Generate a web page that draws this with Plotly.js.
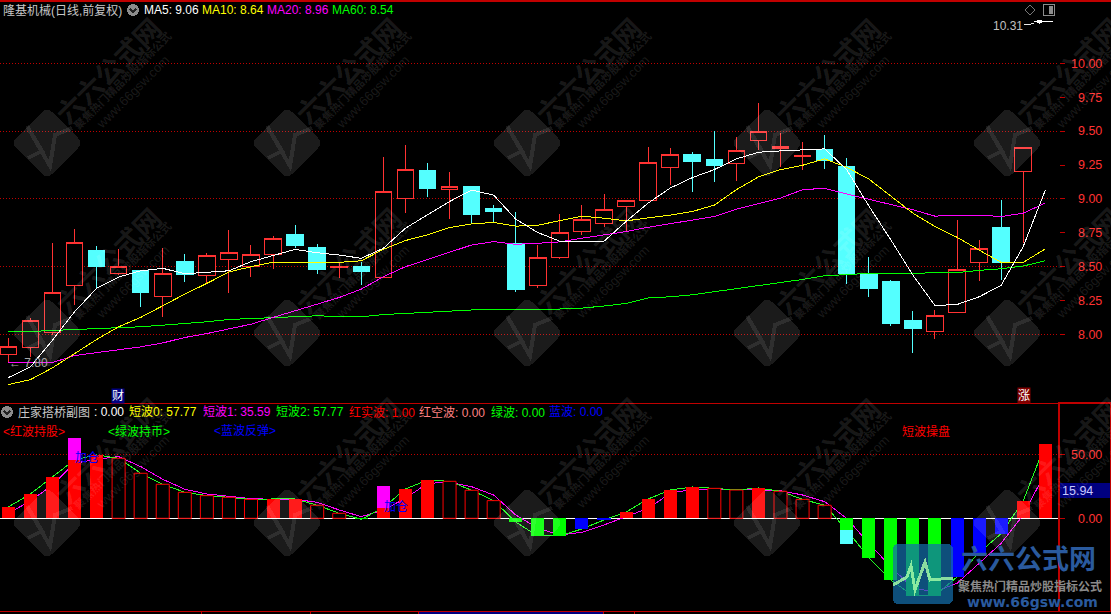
<!DOCTYPE html>
<html><head><meta charset="utf-8">
<script src="https://cdn.plot.ly/plotly-3.0.1.min.js"></script>
<style>html,body{margin:0;padding:0;background:#000;overflow:hidden}#c{width:1111px;height:614px}
.boxlayer path,.barlayer path,.scatterlayer path{shape-rendering:crispEdges !important}
.shapelayer path{shape-rendering:crispEdges !important}
</style>
</head><body><div id="c"></div>
<script>
const W=1111,H=614;
// ---- price data (main panel) ----
const opens=[7.852,7.901,8.012,8.360,8.616,8.448,8.475,8.278,8.542,8.433,8.552,8.502,8.589,8.734,8.645,8.493,8.505,
8.421,9.006,9.209,9.070,9.090,8.927,8.673,8.359,8.567,8.759,8.819,8.944,8.991,9.233,9.327,9.290,9.263,
9.433,9.374,9.315,9.364,9.238,8.446,8.394,8.105,8.019,8.159,8.530,8.786,9.204];
const closes=[7.911,8.103,8.310,8.680,8.505,8.502,8.313,8.451,8.441,8.584,8.606,8.591,8.709,8.653,8.483,8.502,8.468,
9.051,9.214,9.075,9.088,8.883,8.905,8.335,8.569,8.754,8.851,8.925,8.991,9.265,9.325,9.275,9.246,9.357,
9.495,9.389,9.322,9.280,8.453,8.342,8.083,8.046,8.139,8.480,8.636,8.530,9.377];
const highs=[7.978,8.121,8.675,8.778,8.653,8.628,8.475,8.638,8.594,8.601,8.771,8.660,8.727,8.808,8.667,8.532,8.537,
9.312,9.399,9.268,9.201,9.090,8.954,8.905,8.660,8.890,8.957,9.038,8.991,9.386,9.379,9.349,9.502,9.453,
9.710,9.483,9.423,9.468,9.305,8.572,8.401,8.172,8.179,8.846,8.698,8.994,9.377];
const lows=[7.798,7.833,7.995,8.217,8.342,8.438,8.202,8.128,8.387,8.372,8.305,8.424,8.483,8.640,8.446,8.416,8.362,
8.421,8.898,9.016,8.853,8.821,8.826,8.312,8.342,8.557,8.735,8.794,8.762,8.991,9.105,9.053,9.127,9.135,
9.359,9.238,9.211,9.219,8.374,8.278,8.063,7.863,7.967,8.159,8.394,8.401,8.673];
const ma5=[7.682,7.761,7.958,8.167,8.340,8.424,8.470,8.488,8.448,8.458,8.470,8.537,8.581,8.628,8.603,8.586,8.562,
8.636,8.784,8.883,8.981,9.065,9.028,8.851,8.752,8.688,8.683,8.688,8.833,8.969,9.080,9.157,9.216,9.295,
9.344,9.354,9.362,9.369,9.216,8.949,8.698,8.438,8.214,8.221,8.278,8.362,8.648,9.063];
const ma10=[7.631,7.667,7.754,7.860,7.963,8.057,8.126,8.212,8.298,8.377,8.461,8.500,8.534,8.532,8.532,8.532,8.544,
8.628,8.693,8.735,8.789,8.816,8.826,8.799,8.806,8.841,8.873,8.858,8.838,8.860,8.880,8.907,8.954,9.068,
9.162,9.216,9.248,9.295,9.233,9.147,9.019,8.895,8.796,8.717,8.623,8.532,8.532,8.631];
const ma20=[7.793,7.793,7.793,7.845,7.867,7.892,7.909,7.938,7.978,8.007,8.039,8.076,8.126,8.175,8.222,8.273,8.335,
8.426,8.500,8.554,8.611,8.660,8.685,8.665,8.673,8.683,8.710,8.735,8.759,8.791,8.816,8.846,8.870,8.925,
8.964,9.006,9.068,9.078,9.036,8.999,8.957,8.920,8.873,8.880,8.880,8.870,8.895,8.969];
const ma60=[8.022,8.022,8.030,8.037,8.042,8.049,8.057,8.069,8.081,8.094,8.111,8.118,8.123,8.131,8.138,8.133,8.131,
8.147,8.155,8.166,8.173,8.181,8.181,8.181,8.184,8.188,8.195,8.210,8.229,8.270,8.278,8.293,8.315,8.335,
8.357,8.381,8.406,8.433,8.443,8.451,8.451,8.451,8.451,8.456,8.473,8.485,8.505,8.544];
const priceTicks=[8,8.25,8.5,8.75,9,9.25,9.5,9.75,10];
const priceTickText=["\u20078.00","\u20078.25","\u20078.50","\u20078.75","\u20079.00","\u20079.25","\u20079.50","\u20079.75","10.00"];
const priceGrid=[8,8.5,9,9.5,10];
// ---- indicator data (sub panel) ----
const wave2=[8.85,19.0,32.3,45.6,49.5,46.9,35.2,26.6,20.3,17.7,16.4,14.8,15.1,15.1,10.2,3.9,-0.8,
8.3,22.9,29.9,28.9,21.9,13.8,-2.9,-13.8,-13.8,-8.3,-1.3,4.9,15.1,22.1,24.5,23.4,22.1,
23.7,21.1,14.8,10.2,-9.1,-30.7,-48.2,-60.4,-60.4,-45.8,-26.8,-12.0,13.5,57.77];
const wave1=[3.9,13.5,26.0,43.0,46.1,48.2,40.4,30.5,22.7,19.0,17.2,15.4,14.8,14.8,12.5,6.5,1.3,
6.5,15.6,27.3,28.1,24.7,18.2,2.6,-7.8,-13.0,-10.9,-5.2,1.3,7.8,19.5,22.7,22.7,22.7,
22.1,21.6,18.2,13.0,0.0,-19.5,-37.8,-54.7,-57.3,-50.8,-35.2,-19.5,2.6,35.59];
const barKind="FFFFFHHHHHHHFFHHGFFFHHHGGGBBFFFFHHFHHHGGGGGBBBFF".split("");
const extraMagentaIdx=[3,17], extraMagentaVal=[62.8,25.3];
const extraCyanIdx=[38], extraCyanVal=[-20.05];
const subTicks=[0,50], subTickText=["\u20070.00","50.00"];

const idx=wave2.map((_,i)=>i);
const px=x=>x/W, py=y=>1-y/H;
const pick=k=>({x:idx.filter(i=>barKind[i]===k),y:idx.filter(i=>barKind[i]===k).map(i=>wave2[i])});
const xRange=[-0.376,47.6], dom=[0,1058.5/W];
const lineT=(y,c,xa,ya)=>({type:'scatter',mode:'lines',x:idx,y:y,xaxis:xa,yaxis:ya,line:{color:c,width:1,shape:'linear'},hoverinfo:'skip',showlegend:false});
const barT=(d,c,lc)=>({type:'bar',zorder:1,x:d.x,y:d.y,xaxis:'x2',yaxis:'y2',width:0.59,marker:{color:c,line:{color:lc||c,width:lc?1:0}},hoverinfo:'skip',showlegend:false});

const traces=[
 {type:'candlestick',x:idx.slice(0,47),open:opens,high:highs,low:lows,close:closes,xaxis:'x',yaxis:'y',
  whiskerwidth:0,increasing:{line:{color:'#ff3232',width:1},fillcolor:'#000'},decreasing:{line:{color:'#54ffff',width:1},fillcolor:'#54ffff'},hoverinfo:'skip',showlegend:false},
 lineT(ma60,'#00ff00','x','y'),lineT(ma20,'#ff00ff','x','y'),lineT(ma10,'#ffff00','x','y'),lineT(ma5,'#ffffff','x','y'),
 barT({x:extraMagentaIdx,y:extraMagentaVal},'#ff00ff'),
 barT({x:extraCyanIdx,y:extraCyanVal},'#54ffff'),
 barT(pick('F'),'#ff0000'),
 barT(pick('H'),'#000000','#ff0000'),
 barT(pick('G'),'#00ff00'),
 barT(pick('B'),'#0000ff'),
 lineT(wave1,'#ff00ff','x2','y2'),lineT(wave2,'#22ff22','x2','y2')
];

const RED='#c00000';
const shapes=[];
const seg=(x0,y0,x1,y1,c,w)=>shapes.push({type:'line',xref:'paper',yref:'paper',x0:px(x0),y0:py(y0),x1:px(x1),y1:py(y1),line:{color:c,width:w},layer:'above'});
// grid
priceGrid.forEach(v=>shapes.push({type:'line',xref:'paper',yref:'y',x0:0,x1:px(1058),y0:v,y1:v,line:{color:'#c00000',width:1,dash:'1px,2px'},layer:'below'}));
shapes.push({type:'line',xref:'paper',yref:'y2',x0:0,x1:px(1058),y0:50,y1:50,line:{color:'#c00000',width:1,dash:'1px,2px'},layer:'below'});
// frame
seg(0,1,1111,1,RED,2);
seg(0,403.5,1058,403.5,RED,1);
seg(1058,403,1111,403,RED,2);
seg(0,611.5,1111,611.5,RED,1);
seg(1110,403,1110,612,RED,1);
seg(1059,403,1059,612,RED,2);
[201,310,418,603,634].forEach(x=>seg(x,611,x,614,RED,1));
shapes.push({type:'rect',xref:'paper',yref:'paper',x0:px(419),x1:px(603),y0:py(614),y1:py(612),fillcolor:'#000080',line:{width:0},layer:'above'});
shapes.push({type:'rect',xref:'paper',yref:'paper',x0:px(1060),x1:px(1110),y0:py(498),y1:py(483),fillcolor:'#000080',line:{width:0},layer:'above'});
// watermark
const rel=(cx,cy,pts)=>pts.map(p=>px(cx+p[0])+','+py(cy+p[1]));
const dia=(cx,cy)=>{
  const P=a=>rel(cx,cy,[a])[0];
  return 'M'+P([-5,-31])+' Q'+P([0,-36])+' '+P([5,-31])+' L'+P([31,-5])+' Q'+P([36,0])+' '+P([31,5])+' L'+P([5,31])+' Q'+P([0,36])+' '+P([-5,31])+' L'+P([-31,5])+' Q'+P([-36,0])+' '+P([-31,-5])+' Z';
};
const pulse=(cx,cy)=>'M'+rel(cx,cy,[[-19,15],[-5,8],[-20,-17],[3,23],[8,-8],[25,-15]]).join(' L');
const annotations=[];
const FONT='Liberation Sans, Noto Sans CJK SC, sans-serif';
const T=(x,y,t,c,s,o)=>annotations.push(Object.assign({xref:'paper',yref:'paper',x:px(x),y:py(y),text:t,showarrow:false,xanchor:'left',yanchor:'middle',borderpad:0,font:{family:FONT,size:s||12,color:c}},o||{}));
const wm='rgba(255,255,255,0.11)';
[47,287,527,767,1007].forEach(cx=>[143,333,523].forEach(cy=>{
  shapes.push({type:'path',xref:'paper',yref:'paper',path:dia(cx,cy),fillcolor:'rgba(255,255,255,0.105)',line:{width:0},layer:'above'});
  shapes.push({type:'path',xref:'paper',yref:'paper',path:pulse(cx,cy),line:{color:'rgba(255,255,255,0.09)',width:4},layer:'above'});
  const A={textangle:-45,xanchor:'center'};
  T(cx+60,cy-73,'六六公式网',wm,27,Object.assign({font:{family:'Noto Sans CJK SC',size:27,color:wm,weight:700}},A));
  T(cx+75,cy-63,'聚焦热门精品炒股指标公式',wm,11,Object.assign({font:{family:'Noto Sans CJK SC',size:11,color:wm,weight:700}},A));
  T(cx+85,cy-51,'www.66gsw.com',wm,13,A);
}));
// header main
T(2,10,'隆基机械(日线,前复权)','#c8c8c8',12);
T(143,10,'MA5: 9.06','#ffffff');T(201,10,'MA10: 8.64','#ffff00');T(266,10,'MA20: 8.96','#ff00ff');T(331,10,'MA60: 8.54','#00ff00');
const chevron=(cx,cy)=>{
  shapes.push({type:'circle',xref:'paper',yref:'paper',x0:px(cx-6),x1:px(cx+6),y0:py(cy-6),y1:py(cy+6),fillcolor:'#8c8c8c',line:{width:0},layer:'above'});
  shapes.push({type:'path',xref:'paper',yref:'paper',path:'M'+rel(cx,cy,[[-3,-1],[0,2],[3,-1]]).join(' L'),line:{color:'#222',width:1.5},layer:'above'});
};
chevron(133,10);chevron(7,412);
// header sub
T(17,412,'庄家搭桥副图','#c8c8c8');T(93,412,': 0.00','#ffffff');
T(128,412,'短波0: 57.77','#ffff00');T(202,412,'短波1: 35.59','#ff00ff');T(275,412,'短波2: 57.77','#00ff00');
T(348,412,'红实波: 1.00','#ff0000');T(418,412,'红空波: 0.00','#ff8080');T(490,412,'绿波: 0.00','#00ff00');T(548,412,'蓝波: 0.00','#0000ff');
T(2,431,'&lt;红波持股&gt;','#ff0000');T(107,431,'&lt;绿波持币&gt;','#00ff00');T(213,431,'&lt;蓝波反弹&gt;','#0000ff');T(901,431,'短波操盘','#ff0000');
T(74,458,'加仓','#0000ff');T(383,507,'加仓','#0000ff');
// marks
T(8,363,'← 7.80','#a8a8a8');T(992,26,'10.31','#c0c0c0');
T(111,396,'财','#ffffff',12,{bgcolor:'#000080'});T(1017,396,'涨','#ffffff',12,{bgcolor:'#800000'});
T(1061,490.5,'15.94','#c8c8ff',12.5);
seg(1024,25,1034,23.5,'#e8e8e8',1);seg(1034,22,1053,21,'#ffffff',1);seg(1037,21,1042,21,'#ffffff',3);seg(1039,24,1041,22,'#ffffff',1);
shapes.push({type:'path',xref:'paper',yref:'paper',path:'M'+rel(1030,10,[[0,-5],[5,0],[0,5],[-5,0]]).join(' L')+' Z',line:{color:'#777',width:1},layer:'above'});
shapes.push({type:'rect',xref:'paper',yref:'paper',x0:px(1043.5),x1:px(1054.5),y0:py(15.5),y1:py(4.5),line:{color:'#8c8c8c',width:1.5},layer:'above'});
shapes.push({type:'rect',xref:'paper',yref:'paper',x0:px(1049),x1:px(1053),y0:py(14),y1:py(6),fillcolor:'#8c8c8c',line:{width:0},layer:'above'});
// logo
const logoP=(a)=>px(a[0])+','+py(a[1]);
shapes.push({type:'path',xref:'paper',yref:'paper',path:'M'+logoP([899,544])+' L'+logoP([947,544])+' Q'+logoP([953,544])+' '+logoP([953,550])+' L'+logoP([953,598])+' Q'+logoP([953,604])+' '+logoP([947,604])+' L'+logoP([899,604])+' Q'+logoP([893,604])+' '+logoP([893,598])+' L'+logoP([893,550])+' Q'+logoP([893,544])+' '+logoP([899,544])+' Z',fillcolor:'rgba(20,110,170,0.72)',line:{width:0},layer:'above'});
shapes.push({type:'path',xref:'paper',yref:'paper',path:'M'+[[893,585],[907,577],[911,566],[915,590],[925,562],[930,580],[953,578]].map(logoP).join(' L'),line:{color:'rgba(170,255,170,0.8)',width:3},layer:'above'});
T(960,557,'六六公式网','#2a5a9e',27,{font:{family:'Noto Sans CJK SC',size:27,color:'#2a5a9e',weight:700}});
T(957,585,'聚焦热门精品炒股指标公式','#8a8a8a',12,{font:{family:'Noto Sans CJK SC',size:12,color:'#8a8a8a',weight:700}});
T(966,602,'www.66gsw.com','#2a5a9e',14,{font:{family:'DejaVu Sans',size:14,color:'#2a5a9e',weight:700}});

const axFont={family:'Liberation Sans, sans-serif',size:12.5,color:'#ff3232'};
const layout={
 width:W,height:H,margin:{l:0,r:0,t:0,b:0,pad:0},paper_bgcolor:'#000',plot_bgcolor:'#000',showlegend:false,
 barmode:'overlay',boxgap:0.25,boxgroupgap:0,bargap:0,
 xaxis:{domain:dom,range:xRange,anchor:'y',showticklabels:false,ticks:'',showgrid:false,zeroline:false,showline:false,rangeslider:{visible:false},fixedrange:true},
 xaxis2:{domain:dom,range:xRange,anchor:'y2',showticklabels:false,ticks:'',showgrid:false,zeroline:false,showline:false,fixedrange:true},
 yaxis:{domain:[py(403),py(2)],range:[7.495,10.452],side:'right',anchor:'x',tickmode:'array',tickvals:priceTicks,ticktext:priceTickText,tickfont:axFont,
   ticks:'outside',ticklen:5,tickcolor:RED,tickwidth:1,showline:true,linecolor:RED,linewidth:1,showgrid:false,zeroline:false,ticklabelstandoff:4,fixedrange:true},
 yaxis2:{domain:[py(612),py(404)],range:[-73.2,89.3],side:'right',anchor:'x2',tickmode:'array',tickvals:subTicks,ticktext:subTickText,tickfont:axFont,
   ticks:'outside',ticklen:5,tickcolor:RED,tickwidth:1,showline:false,showgrid:false,zeroline:true,zerolinecolor:'#ffffff',zerolinewidth:1,ticklabelstandoff:4,fixedrange:true},
 shapes:shapes,annotations:annotations
};
Plotly.newPlot('c',traces,layout,{staticPlot:true,displayModeBar:false});
</script></body></html>
